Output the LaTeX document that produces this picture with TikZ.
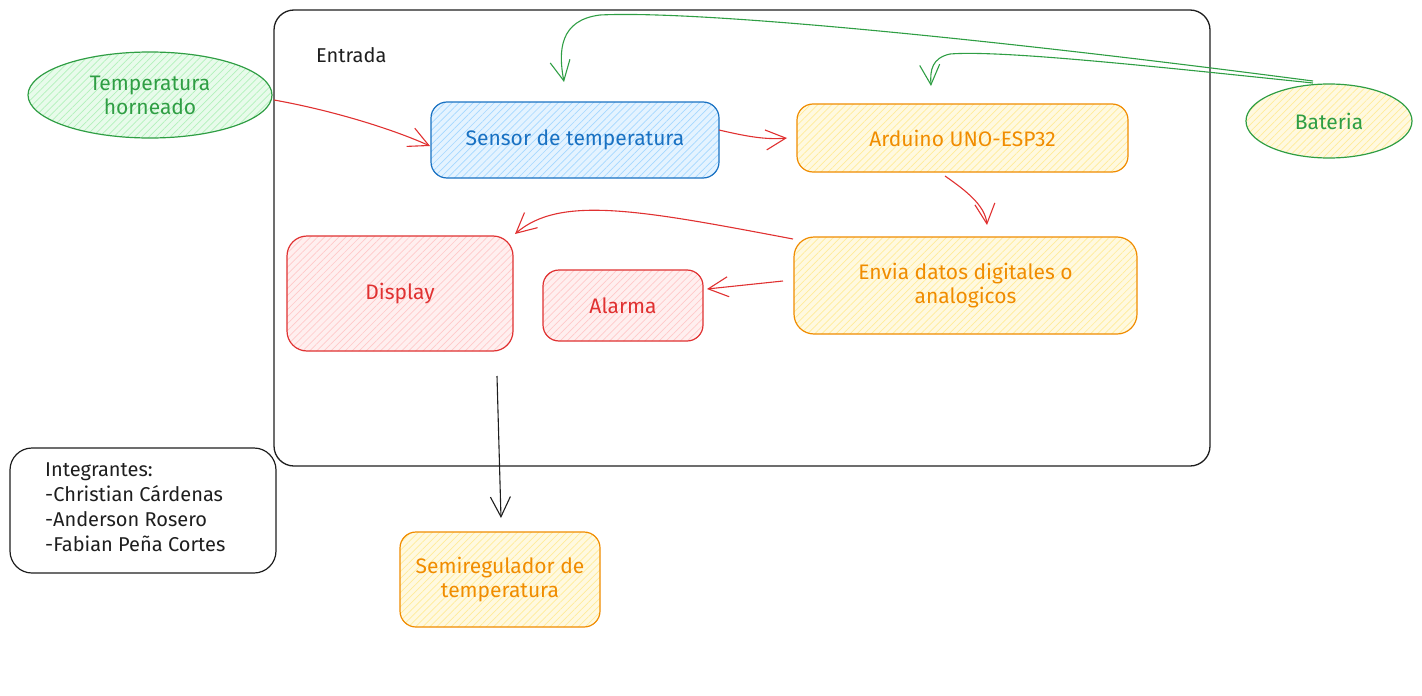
\documentclass[tikz,border=0pt]{standalone}
\usepackage{fontspec}
\setmainfont{Fira Sans}
\usetikzlibrary{arrows.meta,patterns.meta,shapes.geometric}
\definecolor{gstroke}{HTML}{2F9E44}
\definecolor{gfill}{HTML}{B2F2BB}
\definecolor{bstroke}{HTML}{1971C2}
\definecolor{bfill}{HTML}{A5D8FF}
\definecolor{ostroke}{HTML}{F08C00}
\definecolor{ofill}{HTML}{FFEC99}
\definecolor{rstroke}{HTML}{E03131}
\definecolor{rfill}{HTML}{FFC9C9}
\definecolor{ink}{HTML}{1E1E1E}
\tikzset{
  hatch/.style={preaction={fill=#1!30}, pattern={Lines[angle=45,distance=5pt,line width=0.7pt]}, pattern color=#1},
  box/.style={draw, line width=1.2pt, rounded corners=16pt, align=center, font=\fontsize{21}{24}\selectfont, inner sep=0pt},
  oval/.style={draw, ellipse, line width=1.2pt, align=center, font=\fontsize{21}{24}\selectfont, inner sep=0pt},
  conn/.style={line width=1.1pt, -{Straight Barb[length=20pt,width=20pt,line width=1.1pt]}},
}
\begin{document}
\begin{tikzpicture}[x=1pt,y=-1pt]
\useasboundingbox (0,0) rectangle (1422,696);
% frame
\node[draw=ink, line width=1.3pt, rounded corners=20pt, minimum width=936pt, minimum height=456pt, inner sep=0pt] (frame) at (742,238) {};
\node[text=ink, font=\fontsize{20}{24}\selectfont, anchor=west, inner sep=0pt] (entrada) at (316,55) {Entrada};
% ellipses
\node[oval, draw=gstroke, hatch=gfill, text=gstroke, minimum width=244pt, minimum height=86pt] (temp) at (150,95) {Temperatura\\horneado};
\node[oval, draw=gstroke, hatch=ofill, text=gstroke, minimum width=166pt, minimum height=74pt] (bat) at (1329,121) {Bateria};
% boxes
\node[box, draw=bstroke, hatch=bfill, text=bstroke, minimum width=288pt, minimum height=76pt] (sensor) at (575,140) {Sensor de temperatura};
\node[box, draw=ostroke, hatch=ofill, text=ostroke, minimum width=331pt, minimum height=68pt] (ard) at (962.5,138) {Arduino UNO-ESP32};
\node[box, draw=rstroke, hatch=rfill, text=rstroke, rounded corners=20pt, minimum width=226pt, minimum height=115pt] (disp) at (400,293.5) {Display};
\node[box, draw=rstroke, hatch=rfill, text=rstroke, minimum width=160pt, minimum height=71pt] (alarma) at (623,305.5) {Alarma};
\node[box, draw=ostroke, hatch=ofill, text=ostroke, rounded corners=20pt, minimum width=343pt, minimum height=97pt] (envia) at (965.5,285.5) {Envia datos digitales o\\analogicos};
\node[box, draw=ostroke, hatch=ofill, text=ostroke, minimum width=200pt, minimum height=95pt] (semi) at (500,579.5) {Semiregulador de\\temperatura};
\node[draw=ink, line width=1.2pt, text=ink, rounded corners=22pt, minimum width=266pt, minimum height=125pt, inner sep=0pt] (integ) at (143,510.5) {};
\node[text=ink, align=left, anchor=north west, inner sep=0pt, font=\fontsize{20}{25}\selectfont] (integtxt) at (45,463) {Integrantes:\\-Christian Cárdenas\\-Anderson Rosero\\-Fabian Peña Cortes};
% coordinates
\coordinate (temp-out) at (274,100);
\coordinate (sensor-in) at (430,146);
\coordinate (sensor-out) at (719,130);
\coordinate (ard-in) at (787,138);
\coordinate (ard-out) at (945,176);
\coordinate (envia-in) at (987,225);
\coordinate (envia-out1) at (783,281);
\coordinate (alarma-in) at (707,289);
\coordinate (envia-out2) at (793,239);
\coordinate (disp-in) at (515,234);
\coordinate (bat-out1) at (1313,81);
\coordinate (sensor-top) at (564,82);
\coordinate (bat-out2) at (1313,83);
\coordinate (ard-top) at (931,86);
\coordinate (disp-out) at (497,376);
\coordinate (semi-in) at (501,518);
% connectors
\draw[conn, rstroke] (temp-out) .. controls (330,110) and (390,128) .. (sensor-in);
\draw[conn, rstroke] (sensor-out) .. controls (745,136) and (765,140) .. (ard-in);
\draw[conn, rstroke] (ard-out) .. controls (965,190) and (985,205) .. (envia-in);
\draw[conn, rstroke] (envia-out1) -- (alarma-in);
\draw[conn, rstroke] (envia-out2) .. controls (640,210) and (560,195) .. (disp-in);
\draw[conn, gstroke] (bat-out1) .. controls (1000,40) and (700,10) .. (600,15) .. controls (560,20) and (558,50) .. (sensor-top);
\draw[conn, gstroke] (bat-out2) .. controls (1150,66) and (1000,50) .. (950,54) .. controls (932,58) and (930,70) .. (ard-top);
\draw[conn, ink] (disp-out) -- (semi-in);
\end{tikzpicture}
\end{document}
